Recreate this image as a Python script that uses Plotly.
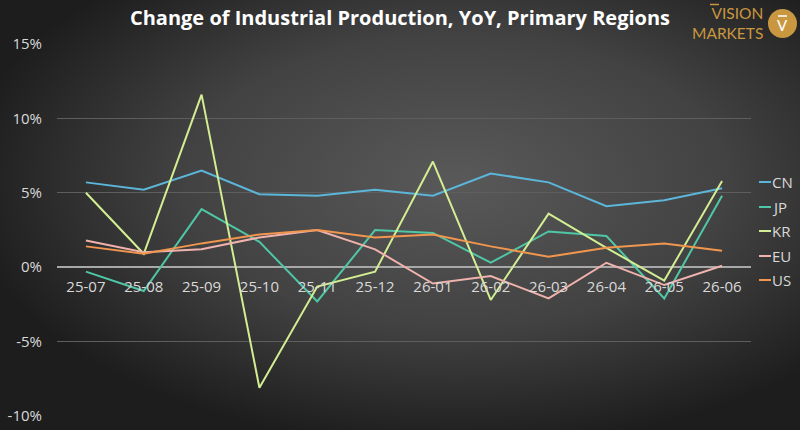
import base64
import plotly.graph_objects as go

months = ["25-07", "25-08", "25-09", "25-10", "25-11", "25-12",
          "26-01", "26-02", "26-03", "26-04", "26-05", "26-06"]
cn = [5.7, 5.2, 6.5, 4.9, 4.8, 5.2, 4.8, 6.3, 5.7, 4.1, 4.5, 5.3]
jp = [-0.3, -1.6, 3.9, 1.7, -2.3, 2.5, 2.3, 0.3, 2.4, 2.1, -2.1, 4.8]
kr = [5.0, 0.9, 11.6, -8.1, -1.3, -0.3, 7.1, -2.2, 3.6, 1.3, -0.9, 5.8]
eu = [1.8, 1.0, 1.2, 2.0, 2.5, 1.2, -1.1, -0.6, -2.1, 0.3, -1.2, 0.1]
us = [1.4, 0.9, 1.6, 2.2, 2.5, 2.0, 2.2, 1.4, 0.7, 1.3, 1.6, 1.1]

y_tick_values = [-10, -5, 0, 5, 10, 15]
y_tick_labels = ["-10%", "-5%", "0%", "5%", "10%", "15%"]

series = [("CN", cn, "#5cb6da"), ("JP", jp, "#4fc7a6"), ("KR", kr, "#d3ee92"),
          ("EU", eu, "#efb2ad"), ("US", us, "#f0964f")]

W, H = 800, 430
L, R, T, B = 57, 49, 44, 14
PW, PH = W - L - R, H - T - B

fig = go.Figure()
for name, vals, col in series:
    fig.add_trace(go.Scatter(x=months, y=vals, name=name, mode="lines",
                             line=dict(color=col, width=2), showlegend=False,
                             hovertemplate="%{x}: %{y}%<extra>" + name + "</extra>"))

svg = f'''<svg xmlns="http://www.w3.org/2000/svg" width="{W}" height="{H}" viewBox="0 0 {W} {H}" preserveAspectRatio="none">
<defs><radialGradient id="g" cx="0.57" cy="0.42" r="0.62">
<stop offset="0" stop-color="#595959"/><stop offset="0.55" stop-color="#424242"/><stop offset="1" stop-color="#1d1d1d"/>
</radialGradient></defs><rect width="{W}" height="{H}" fill="url(#g)"/></svg>'''
src = "data:image/svg+xml;base64," + base64.b64encode(svg.encode()).decode()

def px(x):
    return (x - L) / PW

def py(y):
    return (H - B - y) / PH

images = [dict(source=src, xref="paper", yref="paper", x=px(0), y=py(0),
               sizex=W / PW, sizey=H / PH, sizing="stretch", layer="below",
               xanchor="left", yanchor="top")]

annotations = []
shapes = []
leg_y = [182, 207, 231, 256, 280]
for (name, vals, col), yy in zip(series, leg_y):
    shapes.append(dict(type="line", xref="paper", yref="paper", x0=px(759), x1=px(771),
                       y0=py(yy), y1=py(yy), line=dict(color=col, width=2)))
    annotations.append(dict(text=name, xref="paper", yref="paper", x=px(770), y=py(yy),
                            xanchor="left", yanchor="middle", showarrow=False,
                            font=dict(family="Open Sans", size=15, color="#d9d9d9")))

gold = "#c9973f"
annotations.append(dict(text="VISION<br>MARKETS", xref="paper", yref="paper",
                        x=px(764), y=py(23), xanchor="right", yanchor="middle",
                        align="right", showarrow=False, borderpad=0,
                        font=dict(family="Lato", size=15.5, color=gold)))
shapes.append(dict(type="line", xref="paper", yref="paper", x0=px(710), x1=px(719),
                   y0=py(4.5), y1=py(4.5), line=dict(color=gold, width=1.5)))
shapes.append(dict(type="circle", xref="paper", yref="paper", x0=px(768), x1=px(797),
                   y0=py(9), y1=py(38), fillcolor=gold, line=dict(width=0)))
annotations.append(dict(text="V", xref="paper", yref="paper", x=px(782.5), y=py(25.5),
                        xanchor="center", yanchor="middle", showarrow=False,
                        font=dict(family="Lato", size=15, color="white")))
shapes.append(dict(type="line", xref="paper", yref="paper", x0=px(778), x1=px(787),
                   y0=py(16), y1=py(16), line=dict(color="white", width=1.5)))

fig.update_layout(
    width=W, height=H,
    margin=dict(l=L, r=R, t=T, b=B, autoexpand=False),
    paper_bgcolor="#3a3a3a",
    plot_bgcolor="rgba(0,0,0,0)",
    images=images,
    shapes=shapes,
    annotations=annotations,
    title=dict(text="<b>Change of Industrial Production, YoY, Primary Regions</b>",
               x=0.5, xref="container", y=1 - 18 / H, yref="container",
               xanchor="center", yanchor="middle",
               font=dict(family="Open Sans", size=20, color="#ffffff")),
    font=dict(family="Open Sans", color="#d9d9d9"),
    xaxis=dict(type="category", showgrid=False, zeroline=False, showline=False,
               anchor="free", position=0.4, ticks="", ticklabelstandoff=9,
               automargin=False,
               tickfont=dict(size=15, color="#d9d9d9"), range=[-0.5, 11.5]),
    yaxis=dict(range=[-10, 15], tickvals=y_tick_values, ticktext=y_tick_labels,
               showgrid=True, automargin=False,
               gridcolor="#5e5e5e", gridwidth=1.2, zeroline=True, zerolinecolor="#a8a8a8",
               zerolinewidth=1.5, showline=False, ticks="", ticklabelstandoff=14,
               tickfont=dict(size=15, color="#d9d9d9")),
)

fig.write_html("out.html", config={"displayModeBar": False},
               post_script="document.body.style.margin='0';document.body.style.background='#2a2a2a';")
